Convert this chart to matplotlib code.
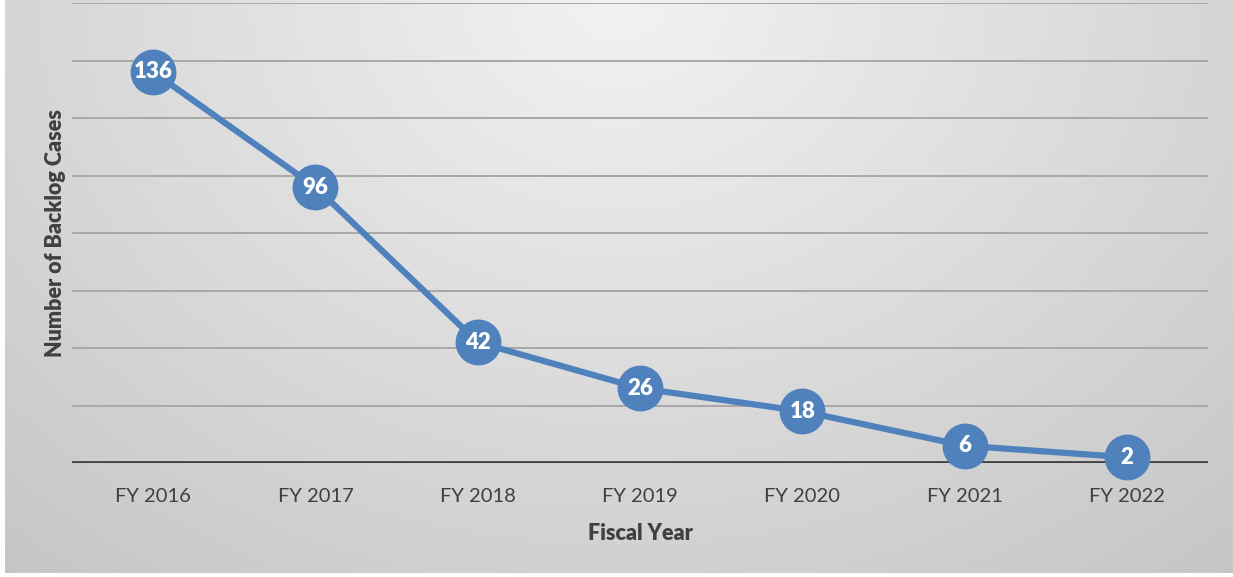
import numpy as np
import matplotlib.pyplot as plt

plt.rcParams['font.family'] = ['Lato', 'DejaVu Sans']

years = ['FY 2016', 'FY 2017', 'FY 2018', 'FY 2019', 'FY 2020', 'FY 2021', 'FY 2022']
cases = [136, 96, 42, 26, 18, 6, 2]

W, H = 1233, 577
fig = plt.figure(figsize=(W / 100, H / 100), dpi=100)
fig.patch.set_facecolor('white')

# gradient background (radial, light at top centre)
bg = fig.add_axes([5 / W, 4 / H, 1 - 5 / W, 1 - 4 / H])
gx, gy = np.meshgrid(np.linspace(-1, 1, 600), np.linspace(0, 1, 300))
r = np.sqrt((gx * 0.85) ** 2 + gy ** 2)
shade = np.clip(0.95 - 0.16 * r / 1.2, 0.76, 0.95)
bg.imshow(np.dstack([shade] * 3), aspect='auto', extent=[0, 1, 0, 1], origin='upper')
bg.set_axis_off()

ax = fig.add_axes([72 / W, 114 / H, (1208 - 72) / W, (574 - 114) / H])
ax.patch.set_alpha(0)
x = np.arange(len(years))
ax.set_xlim(-0.5, len(years) - 0.5)
ax.set_ylim(0, 160)

for yv in range(20, 161, 20):
    ax.axhline(yv, color='#a8a8a8', linewidth=1.4, zorder=1)
ax.axhline(0, color='#404040', linewidth=3.4, zorder=2)

ax.plot(x, cases, color='#4f81bd', linewidth=4.5, zorder=3, clip_on=False,
        marker='o', markersize=32, markerfacecolor='#4f81bd', markeredgecolor='#4f81bd')
for xi, v in zip(x, cases):
    ax.text(xi, v, str(v), color='white', fontsize=16, fontweight='heavy',
            ha='center', va='center', zorder=4)

for s in ax.spines.values():
    s.set_visible(False)
ax.set_yticks([])
ax.set_xticks(x)
ax.set_xticklabels(years, fontsize=14.5, color='#404040')
ax.tick_params(axis='x', length=0, pad=18)
ax.set_xlabel('Fiscal Year', fontsize=15.5, fontweight='heavy', color='#404040', labelpad=13)
ax.set_ylabel('Number of Backlog Cases', fontsize=15.5, fontweight='heavy', color='#404040')
ax.yaxis.set_label_coords(-6 / (1208 - 72), (463 - 233) / (463 - 3))

fig.savefig('out.png', dpi=100)
